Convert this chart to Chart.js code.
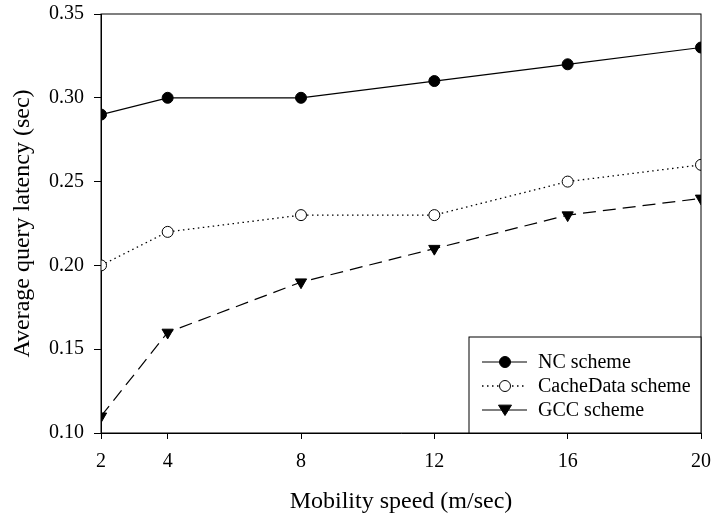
<!DOCTYPE html>
<html>
<head>
<meta charset="utf-8">
<script src="https://cdn.jsdelivr.net/npm/chart.js@4/dist/chart.umd.min.js"></script>
<style>
  html, body { margin: 0; padding: 0; background: #fff; }
  #wrap { position: relative; width: 725px; height: 518px; }
</style>
</head>
<body>
<div id="wrap"><canvas id="latency-chart"></canvas></div>
<script>
// data
const speeds = [2, 4, 8, 12, 16, 20];
const ncScheme = [0.29, 0.30, 0.30, 0.31, 0.32, 0.33];
const cacheDataScheme = [0.20, 0.22, 0.23, 0.23, 0.25, 0.26];
const gccScheme = [0.11, 0.16, 0.19, 0.21, 0.23, 0.24];
const seriesNames = ["NC scheme", "CacheData scheme", "GCC scheme"];

const FONT = "'Liberation Serif', 'Times New Roman', serif";

const toPoints = (vals) => speeds.map((s, i) => ({ x: s, y: vals[i] }));

// frame around the plot area
const framePlugin = {
  id: "frame",
  afterDraw(chart) {
    const { ctx, chartArea: a } = chart;
    ctx.save();
    ctx.strokeStyle = "#000";
    ctx.lineWidth = 1;
    ctx.strokeRect(a.left, a.top, a.right - a.left, a.bottom - a.top);
    ctx.restore();
  },
};

function drawMarker(ctx, ds, x, y) {
  const r = ds.pointRadius;
  ctx.save();
  ctx.setLineDash([]);
  ctx.lineWidth = ds.pointBorderWidth;
  ctx.strokeStyle = "#000";
  ctx.fillStyle = ds.pointBackgroundColor;
  ctx.beginPath();
  if (ds.pointStyle === "triangle") {
    ctx.moveTo(x - r, y - r * 0.75);
    ctx.lineTo(x + r, y - r * 0.75);
    ctx.lineTo(x, y + r * 0.85);
    ctx.closePath();
  } else {
    ctx.arc(x, y, r, 0, Math.PI * 2);
  }
  ctx.fill();
  ctx.stroke();
  ctx.restore();
}

// legend box sitting in the lower right corner of the plot
const boxLegend = {
  id: "boxLegend",
  afterDraw(chart) {
    const { ctx, chartArea: a } = chart;
    const w = 232, h = 96;
    const left = a.right - w, top = a.bottom - h;
    ctx.save();
    ctx.fillStyle = "#fff";
    ctx.fillRect(left, top, w, h);
    ctx.strokeStyle = "#000";
    ctx.lineWidth = 1;
    ctx.strokeRect(left, top, w, h);
    chart.data.datasets.forEach((ds, i) => {
      const y = top + 25 + i * 24;
      ctx.beginPath();
      ctx.setLineDash(ds.legendDash);
      ctx.lineWidth = ds.borderWidth;
      ctx.moveTo(left + 13, y);
      ctx.lineTo(left + 58, y);
      ctx.stroke();
      drawMarker(ctx, ds, left + 36, y);
      ctx.setLineDash([]);
      ctx.fillStyle = "#000";
      ctx.font = "20px " + FONT;
      ctx.textAlign = "left";
      ctx.textBaseline = "middle";
      ctx.fillText(ds.label, left + 69, y + 1);
    });
    ctx.restore();
  },
};

const ctx = document.getElementById("latency-chart").getContext("2d");

new Chart(ctx, {
  type: "line",
  data: {
    datasets: [
      {
        label: seriesNames[0],
        data: toPoints(ncScheme),
        borderColor: "#000",
        borderWidth: 1.2,
        pointStyle: "circle",
        pointRadius: 5.5,
        pointBackgroundColor: "#000",
        pointBorderColor: "#000",
        pointBorderWidth: 1,
        legendDash: [],
      },
      {
        label: seriesNames[1],
        data: toPoints(cacheDataScheme),
        borderColor: "#000",
        borderWidth: 1.3,
        borderDash: [1.5, 3.5],
        pointStyle: "circle",
        pointRadius: 5.5,
        pointBackgroundColor: "#fff",
        pointBorderColor: "#000",
        pointBorderWidth: 1,
        legendDash: [1.5, 3.5],
      },
      {
        label: seriesNames[2],
        data: toPoints(gccScheme),
        borderColor: "#000",
        borderWidth: 1.2,
        borderDash: [13, 7],
        pointStyle: "triangle",
        pointRotation: 180,
        pointRadius: 6.5,
        pointBackgroundColor: "#000",
        pointBorderColor: "#000",
        pointBorderWidth: 1,
        legendDash: [],
      },
    ],
  },
  options: {
    animation: false,
    responsive: true,
    maintainAspectRatio: false,
    layout: { padding: { top: 14, right: 24, left: 0, bottom: 0 } },
    plugins: {
      legend: { display: false },
      tooltip: { enabled: false },
    },
    scales: {
      x: {
        type: "linear",
        min: 2,
        max: 20,
        afterBuildTicks: (scale) => {
          scale.ticks = speeds.map((v) => ({ value: v }));
        },
        afterFit: (scale) => {
          scale.height = 85;
          scale.paddingLeft = 0;
          scale.paddingRight = 0;
        },
        grid: { drawOnChartArea: false, drawTicks: true, tickLength: 6, color: "#000" },
        border: { display: true, color: "#000", width: 1 },
        ticks: {
          color: "#000",
          padding: 11,
          maxRotation: 0,
          autoSkip: false,
          font: { family: FONT, size: 20 },
        },
        title: {
          display: true,
          text: "Mobility speed (m/sec)",
          color: "#000",
          padding: { top: 2, bottom: 2 },
          font: { family: FONT, size: 24 },
        },
      },
      y: {
        min: 0.1,
        max: 0.35,
        afterFit: (scale) => {
          scale.width = 101;
          scale.paddingTop = 0;
          scale.paddingBottom = 0;
        },
        grid: { drawOnChartArea: false, drawTicks: true, tickLength: 7, color: "#000" },
        border: { display: true, color: "#000", width: 1 },
        ticks: {
          stepSize: 0.05,
          color: "#000",
          padding: 10,
          font: { family: FONT, size: 20 },
          callback: (v) => Number(v).toFixed(2),
        },
        title: {
          display: true,
          text: "Average query latency (sec)",
          color: "#000",
          padding: { top: 8, bottom: 0 },
          font: { family: FONT, size: 24 },
        },
      },
    },
  },
  plugins: [framePlugin, boxLegend],
});
</script>
</body>
</html>
